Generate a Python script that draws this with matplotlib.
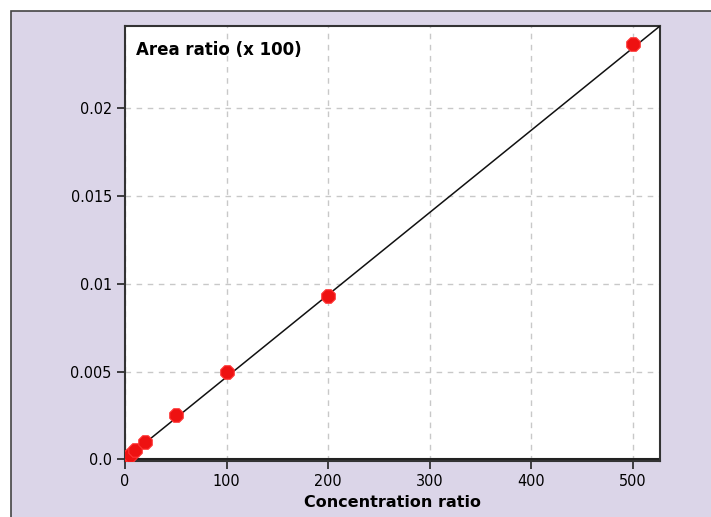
import matplotlib
matplotlib.use("Agg")
import matplotlib.pyplot as plt
from matplotlib.patches import Rectangle

conc = [2, 5, 10, 20, 50, 100, 200, 500]
area = [0.0001, 0.00025, 0.0005, 0.0010, 0.0025, 0.0050, 0.0093, 0.0237]
fit_x = [0, 527]
fit_y = [0.0, 0.0247]
xticks = [0, 100, 200, 300, 400, 500]
yticks = [0.0, 0.005, 0.01, 0.015, 0.02]
ytick_labels = ["0.0", "0.005", "0.01", "0.015", "0.02"]

plt.rcParams['font.family'] = ['DejaVu Sans']
plt.rcParams['font.stretch'] = 'condensed'

fig = plt.figure(figsize=(7.11, 5.17), dpi=100)
fig.patch.set_facecolor('white')
bg = Rectangle((11/711, -0.05), 1 - 11/711 + 0.05, 1 - 11/517 + 0.05, transform=fig.transFigure,
               facecolor='#dbd5e8', edgecolor='#444444', linewidth=1.2, zorder=-10)
fig.patches.append(bg)

ax = fig.add_axes([125/711, 1 - 461/517, (660-125)/711, (461-26)/517])
ax.set_zorder(5)
ax.set_facecolor('white')
ax.set_xlim(0, 527)
ax.set_ylim(-0.0001, 0.0247)

ax.grid(True, linestyle=(0, (4, 4)), color='#c8c8c8', linewidth=1)
ax.set_axisbelow(True)
ax.axhline(0, color='#222222', linewidth=1.5, zorder=2)

ax.plot(fit_x, fit_y, color='#111111', linewidth=1.1, zorder=3)
ax.scatter(conc, area, s=110, marker='8', color='#ee1111', edgecolors='#ff3333',
           linewidths=0.8, zorder=4)

ax.set_xticks(xticks)
ax.set_xticklabels([str(t) for t in xticks])
ax.set_yticks(yticks)
ax.set_yticklabels(ytick_labels)
ax.tick_params(axis='both', labelsize=11.5, length=6, width=1.2, color='#222222')
for s in ax.spines.values():
    s.set_color('#333333')
    s.set_linewidth(1.5)

ax.set_xlabel('Concentration ratio', fontsize=11.5, fontweight='bold', labelpad=4,
              fontstretch='normal')
ax.text(0.02, 0.965, 'Area ratio (x 100)', transform=ax.transAxes, fontsize=12,
        fontweight='bold', va='top', ha='left', fontstretch='normal')

fig.savefig('out.png', dpi=100)
